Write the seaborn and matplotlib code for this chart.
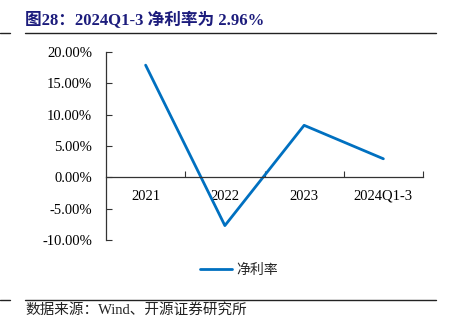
import matplotlib
matplotlib.use("Agg")
import matplotlib.pyplot as plt
from matplotlib.lines import Line2D
from matplotlib.ticker import FixedLocator, FuncFormatter
import seaborn as sns
import pandas as pd

# Net profit margin by period (%)
periods = ["2021", "2022", "2023", "2024Q1-3"]
net_margin = [17.9, -7.7, 8.3, 2.96]
series_name = "净利率"
y_ticks = [-10, -5, 0, 5, 10, 15, 20]

title_text = "图28：2024Q1-3 净利率为 2.96%"
source_text = "数据来源：Wind、开源证券研究所"

sns.set_theme(style="white")
plt.rcParams["font.family"] = ["Liberation Serif", "Noto Sans CJK SC", "DejaVu Sans"]

W, H = 454, 323
fig = plt.figure(figsize=(W / 100, H / 100), dpi=100)
fig.patch.set_facecolor("white")

def px(x, y):
    return x / W, 1 - y / H

left, top = px(106, 52)
right, bottom = px(423, 240)
ax = fig.add_axes([left, bottom, right - left, top - bottom])
ax.set_facecolor("white")

df = pd.DataFrame({"period": periods, "value": net_margin})
sns.lineplot(data=df, x="period", y="value", ax=ax, color="#0070C0",
             linewidth=2.0, label=series_name, sort=False)

ax.set_xlim(-0.5, len(periods) - 0.5)
ax.set_ylim(-10, 20)
ax.set_xlabel("")
ax.set_ylabel("")

# y axis
ax.yaxis.set_major_locator(FixedLocator(y_ticks))
ax.yaxis.set_major_formatter(FuncFormatter(lambda v, p: f"{v:.2f}%"))
ax.tick_params(axis="y", direction="in", length=4, width=0.8, color="#333333",
               pad=10, labelsize=10.5, labelcolor="black", left=True)

# x axis sits on the zero line, boundary ticks between categories
ax.spines["bottom"].set_position(("data", 0))
ax.spines["right"].set_visible(False)
ax.spines["top"].set_visible(False)
for s in ("left", "bottom"):
    ax.spines[s].set_color("#333333")
    ax.spines[s].set_linewidth(0.9)
ax.set_xticks(range(len(periods)))
ax.set_xticklabels(periods)
ax.set_xticks([i + 0.5 for i in range(len(periods))], minor=True)
ax.tick_params(axis="x", which="major", length=0, pad=9, labelsize=10.5,
               labelcolor="black", bottom=True)
ax.tick_params(axis="x", which="minor", direction="in", length=4, width=0.8,
               color="#333333", bottom=True)
ax.grid(False)

# legend
leg = ax.legend(loc="center", bbox_to_anchor=px(239, 270),
                bbox_transform=fig.transFigure, frameon=False,
                handlelength=2.3, handletextpad=0.3, fontsize=10)
for t in leg.get_texts():
    t.set_family(["Noto Sans CJK SC"])

# title, rules and source
fig.text(*px(25, 20), title_text, ha="left", va="center", fontsize=12,
         fontweight="bold", color="#1C1C7C",
         family=["Liberation Serif", "Noto Sans CJK SC"])
for yy in (33, 300):
    fig.add_artist(Line2D([25 / W, 436 / W], [1 - yy / H] * 2,
                          transform=fig.transFigure, color="#222222", lw=1.0))
    fig.add_artist(Line2D([0, 10 / W], [1 - yy / H] * 2,
                          transform=fig.transFigure, color="#222222", lw=1.0))
fig.text(*px(25, 310), source_text, ha="left", va="center", fontsize=10.5,
         color="#222222", family=["Liberation Serif", "Noto Sans CJK SC"])

fig.savefig("out.png", dpi=100, facecolor="white")
